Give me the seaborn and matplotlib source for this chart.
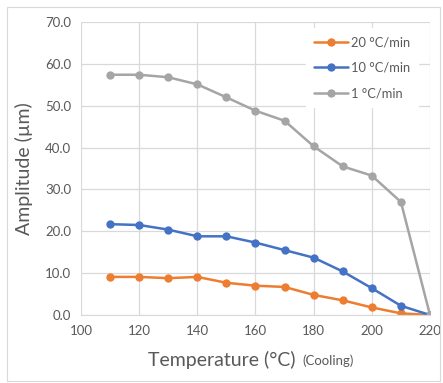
"""
Amplitude vs. temperature during cooling for three cooling rates.
"""

import pandas as pd
import seaborn as sns
import matplotlib.pyplot as plt
from matplotlib.patches import Rectangle

temperature = [110, 120, 130, 140, 150, 160, 170, 180, 190, 200, 210, 220]
amp_20 = [9.1, 9.1, 8.8, 9.1, 7.7, 7.0, 6.7, 4.8, 3.5, 1.8, 0.4, 0.0]
amp_10 = [21.7, 21.5, 20.4, 18.8, 18.8, 17.3, 15.5, 13.7, 10.4, 6.4, 2.2, 0.0]
amp_1 = [57.4, 57.4, 56.8, 55.1, 52.0, 48.8, 46.4, 40.3, 35.5, 33.3, 27.0, 0.0]
series = ['20 °C/min', '10 °C/min', '1 °C/min']
colors = ['#ED7D31', '#4472C4', '#A5A5A5']

# long form table for seaborn
frames = []
for name, vals in zip(series, [amp_20, amp_10, amp_1]):
    frames.append(pd.DataFrame({'Temperature': temperature,
                                'Amplitude': vals, 'Rate': name}))
data = pd.concat(frames, ignore_index=True)

sns.set_style('white')
plt.rcParams['font.family'] = ['Lato', 'DejaVu Sans']
text_color = '#595959'

fig = plt.figure(figsize=(4.43, 3.83), dpi=100)
ax = fig.add_axes([81 / 443, 1 - 315 / 383, (430 - 81) / 443, (315 - 22) / 383])

sns.lineplot(data=data, x='Temperature', y='Amplitude', hue='Rate',
             hue_order=series, palette=colors, marker='o', markersize=6,
             markeredgewidth=0, linewidth=1.8, ax=ax)

ax.set_xlim(100, 220)
ax.set_ylim(0, 70)
ax.set_xticks(range(100, 221, 20))
ax.set_yticks(range(0, 71, 10))
ax.set_yticklabels([f'{v:.1f}' for v in range(0, 71, 10)])
ax.grid(True, color='#D9D9D9', linewidth=0.9)
ax.set_axisbelow(True)
for side in ['top', 'right', 'left']:
    ax.spines[side].set_visible(False)
ax.spines['bottom'].set_color('#D9D9D9')
ax.tick_params(axis='both', length=0, labelsize=9.5, colors=text_color, pad=7)

ax.set_xlabel('')
ax.set_ylabel('Amplitude (µm)', fontsize=14, color=text_color, labelpad=9)

fig.text(296 / 443, 1 - 360 / 383, 'Temperature (°C)', fontsize=14,
         color=text_color, va='center', ha='right')
fig.text(302 / 443, 1 - 361 / 383, '(Cooling)', fontsize=9.5,
         color=text_color, va='center', ha='left')

leg = ax.legend(loc='upper right', bbox_to_anchor=(0.985, 1.0), frameon=True,
                fontsize=9.3, labelspacing=1.05, handlelength=2.6,
                handletextpad=0.3, borderpad=0.6)
leg.get_frame().set_facecolor('white')
leg.get_frame().set_edgecolor('white')
leg.get_frame().set_alpha(1)
for t in leg.get_texts():
    t.set_color(text_color)

# chart frame
fig.patches.append(Rectangle((7 / 443, 2 / 383), 433 / 443, 374 / 383,
                             transform=fig.transFigure, fill=False,
                             edgecolor='#D9D9D9', linewidth=0.8))

fig.savefig('out.png', dpi=100)
